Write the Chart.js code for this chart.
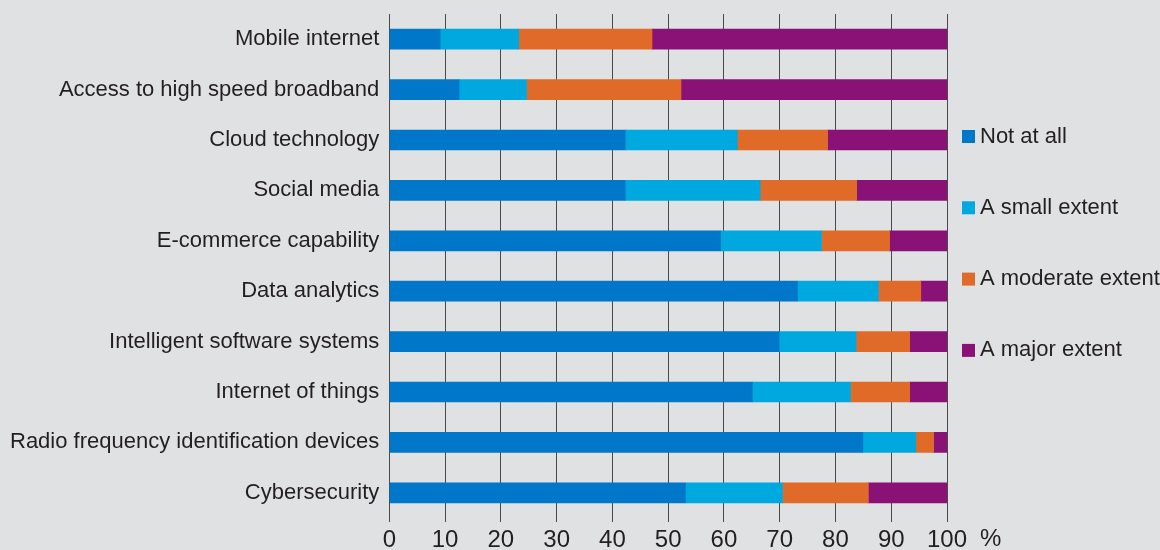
<!DOCTYPE html>
<html>
<head>
<meta charset="utf-8">
<script src="https://cdn.jsdelivr.net/npm/chart.js@4.4.0/dist/chart.umd.min.js"></script>
<style>
  html, body { margin: 0; padding: 0; background: #e0e1e3; }
  #wrap { width: 1160px; height: 550px; }
</style>
</head>
<body>
<div id="wrap"><canvas id="myChart"></canvas></div>
<script>
const categories = [
    'Mobile internet',
    'Access to high speed broadband',
    'Cloud technology',
    'Social media',
    'E-commerce capability',
    'Data analytics',
    'Intelligent software systems',
    'Internet of things',
    'Radio frequency identification devices',
    'Cybersecurity'
];

// share of respondents, %
const notAtAll      = [9.1, 12.5, 42.3, 42.3, 59.4, 73.2, 69.9, 65.1, 84.9, 53.1];
const smallExtent   = [14.1, 12.1, 20.1, 24.2, 18.1, 14.5, 13.8, 17.6, 9.5, 17.4];
const moderateExt   = [23.9, 27.7, 16.2, 17.3, 12.2, 7.6, 9.6, 10.6, 3.2, 15.4];
const majorExtent   = [52.9, 47.7, 21.4, 16.2, 10.3, 4.7, 6.7, 6.7, 2.4, 14.1];

const seriesNames = ['Not at all', 'A small extent', 'A moderate extent', 'A major extent'];
const seriesColors = ['#0077c8', '#00a8e0', '#e06b28', '#8a1277'];

const xTicks = [0, 10, 20, 30, 40, 50, 60, 70, 80, 90, 100];

const fontFamily = "'Liberation Sans', Arial, sans-serif";
const textColor = '#231f20';

// legend drawn by hand so the items can sit far apart
const sideLegend = {
    id: 'sideLegend',
    afterDraw(chart) {
        const ctx = chart.ctx;
        const area = chart.chartArea;
        ctx.save();
        ctx.font = '22px ' + fontFamily;
        ctx.textBaseline = 'middle';
        chart.data.datasets.forEach((ds, i) => {
            const y = area.top + 122.5 + i * 71.3;
            ctx.fillStyle = ds.backgroundColor;
            ctx.fillRect(area.right + 15, y - 6.5, 13, 13);
            ctx.fillStyle = textColor;
            ctx.fillText(ds.label, area.right + 33, y);
        });
        // unit label next to the last tick
        const xs = chart.scales.x;
        ctx.font = '24px ' + fontFamily;
        ctx.textBaseline = 'top';
        ctx.fillText('%', xs.right + 33, area.bottom + 9);
        ctx.restore();
    }
};

const data = {
    labels: categories,
    datasets: [
        { label: seriesNames[0], data: notAtAll, backgroundColor: seriesColors[0] },
        { label: seriesNames[1], data: smallExtent, backgroundColor: seriesColors[1] },
        { label: seriesNames[2], data: moderateExt, backgroundColor: seriesColors[2] },
        { label: seriesNames[3], data: majorExtent, backgroundColor: seriesColors[3] }
    ]
};

const config = {
    type: 'bar',
    data: data,
    options: {
        indexAxis: 'y',
        responsive: true,
        maintainAspectRatio: false,
        animation: false,
        layout: {
            padding: { top: 14, right: 213, bottom: 0, left: 0 }
        },
        datasets: {
            bar: {
                barThickness: 20,
                borderWidth: 0
            }
        },
        scales: {
            x: {
                stacked: true,
                min: 0,
                max: 100,
                afterBuildTicks: (axis) => {
                    axis.ticks = xTicks.map(v => ({ value: v }));
                },
                afterFit: (scale) => {
                    scale.height = 32;
                },
                grid: {
                    color: '#4a4a4a',
                    lineWidth: 1,
                    tickLength: 4,
                    drawOnChartArea: true
                },
                border: { display: false },
                ticks: {
                    color: textColor,
                    padding: 6,
                    maxRotation: 0,
                    font: { family: fontFamily, size: 24, lineHeight: 1 }
                }
            },
            y: {
                stacked: true,
                grid: { display: false, drawTicks: false },
                border: { display: false },
                afterFit: (scale) => {
                    scale.paddingTop = 0;
                    scale.paddingBottom = 0;
                },
                ticks: {
                    color: textColor,
                    padding: 10,
                    font: { family: fontFamily, size: 22 }
                }
            }
        },
        plugins: {
            legend: { display: false },
            tooltip: { enabled: false }
        }
    },
    plugins: [sideLegend]
};

const myChart = new Chart(
    document.getElementById('myChart'),
    config
);
</script>
</body>
</html>
